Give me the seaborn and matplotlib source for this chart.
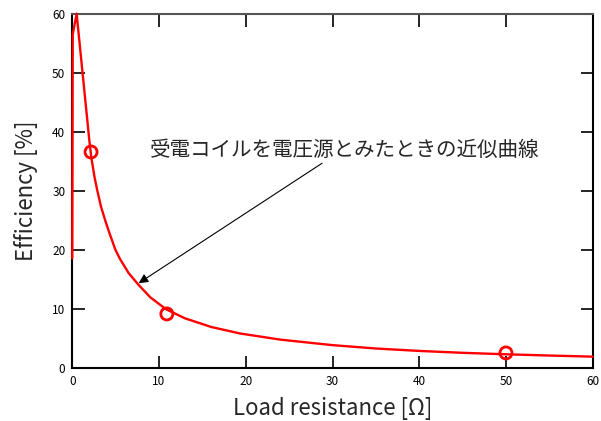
import matplotlib
matplotlib.use("Agg")
import matplotlib.pyplot as plt
import seaborn as sns
import pandas as pd

# Curve
resistance = [0.0, 0.05, 0.5, 1.96, 2.2, 2.58, 2.88, 3.3, 3.8, 4.3, 4.96, 5.46,
              6.5, 7.65, 9.0, 10.8, 13.0, 16.0, 19.3, 24.0, 30.0, 35.0, 40.0,
              45.0, 50.0, 55.0, 60.0]
efficiency = [18.6, 56.5, 60.0, 38.6, 35.6, 32.2, 30.1, 27.4, 25.0, 22.8, 20.1, 18.6,
              16.1, 14.1, 12.0, 10.0, 8.45, 7.0, 5.9, 4.85, 3.92, 3.35, 2.94,
              2.62, 2.37, 2.16, 1.97]

# Measured points (circles)
meas_r = [2.16, 10.9, 50.0]
meas_eff = [36.6, 9.2, 2.6]

x_ticks = [0, 10, 20, 30, 40, 50, 60]
y_ticks = [0, 10, 20, 30, 40, 50, 60]

annotation = "受電コイルを電圧源とみたときの近似曲線"
xlabel = "Load resistance [Ω]"
ylabel = "Efficiency [%]"

sns.set_theme(style="ticks")
plt.rcParams['font.family'] = ['Noto Sans CJK JP', 'DejaVu Sans']

curve_df = pd.DataFrame({"R": resistance, "eff": efficiency})
meas_df = pd.DataFrame({"R": meas_r, "eff": meas_eff})

fig = plt.figure(figsize=(6.01, 4.21), dpi=100)
ax = fig.add_axes([72.3 / 601, 1 - 368.3 / 421, (592.7 - 72.3) / 601, (368.3 - 13.7) / 421])

sns.lineplot(data=curve_df, x="R", y="eff", ax=ax, sort=False, color="#ff0000",
             linewidth=1.7, estimator=None)
for ln in ax.lines:
    ln.set_clip_on(False)
    ln.set_zorder(4)
    ln.set_solid_joinstyle("round")
sns.scatterplot(data=meas_df, x="R", y="eff", ax=ax, marker="o", s=75,
                facecolor="none", edgecolor="#ff0000", linewidth=2, zorder=5)

ax.set_xlim(0, 60)
ax.set_ylim(0, 60)
ax.set_xticks(x_ticks)
ax.set_yticks(y_ticks)
ax.tick_params(direction="in", length=9, width=1.2, top=True, right=True,
               labelsize=8.5, colors="black", pad=5)
for s in ax.spines.values():
    s.set_linewidth(1.5)
    s.set_color("black")
    s.set_zorder(2)
ax.spines["top"].set_color("#555555")

ax.set_xlabel(xlabel, fontsize=16, labelpad=6)
ax.set_ylabel(ylabel, fontsize=16, labelpad=10)

ax.text(31.4, 37.0, annotation, fontsize=14.8, ha="center", va="center")
ax.annotate("", xy=(7.65, 14.4), xytext=(28.8, 34.7),
            arrowprops=dict(arrowstyle="-|>", color="black", lw=0.8,
                            mutation_scale=14, shrinkA=0, shrinkB=0))

fig.savefig("out.png", dpi=100)
